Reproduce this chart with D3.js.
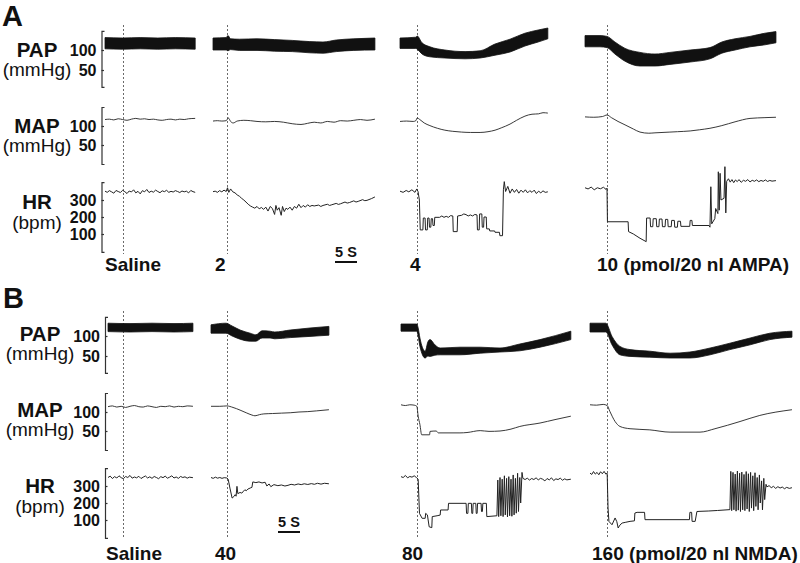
<!DOCTYPE html>
<html>
<head>
<meta charset="utf-8">
<script src="https://cdn.jsdelivr.net/npm/d3@7"></script>
<style>
	body { margin: 0; background: #fff; }
	svg { display: block; font-family: "Liberation Sans", Arial, sans-serif; }
</style>
</head>
<body>
<script>

// ------------------------ DATA ------------------------
// times are seconds from the start of each trace segment
var panelNames = ['A', 'B'];
var doseLabels = [
	['Saline', '2', '4', '10 (pmol/20 nl AMPA)'],
	['Saline', '40', '80', '160 (pmol/20 nl NMDA)']
];
var rowNames = [['PAP', '(mmHg)'], ['MAP', '(mmHg)'], ['HR', '(bpm)']];
var papTicks = [50, 100];
var mapTicks = [50, 100];
var hrTicks = [100, 200, 300];
var scaleBarSeconds = 5;

// injection time (s) of each segment -> dashed line
var injectT = [[4.1, 3.2, 3.9, 5.0], [3.4, 3.6, 3.6, 3.9]];

// PAP envelope: [t, diastolic, systolic]
var papA = [
	[[0,103,131],[4,102,130],[8,103,131],[12,102,130],[16,103,131],[20.5,102,130]],
	[[0,100,130],[3,100,131],[3.4,98,136],[4,101,128],[6,99,127],[10,99,128],[14,97,126],[18,96,124],[22,93,121],[25,92,120],[28,96,125],[32,99,128],[36.8,100,130]],
	[[0,104,130],[3.6,104,132],[3.9,102,135],[5,90,118],[6.8,83,108],[10.2,80,100],[14.8,78,96],[18.2,80,98],[21.6,87,115],[25,95,127],[28.4,110,142],[31.4,120,150],[33.6,128,155]],
	[[0,108,136],[3.4,108,136],[5,106,134],[6.8,90,120],[9.1,72,104],[12.5,60,94],[15.9,60,90],[19.3,64,94],[23.9,70,100],[28.4,78,106],[31.1,92,120],[34.1,100,128],[37.5,108,134],[40.9,113,142],[43.4,118,146]]
];
var papB = [
	[[0,111,132],[5,110,131],[10,111,132],[15,110,131],[19.3,111,132]],
	[[0,107,128],[3.4,107,132],[4.8,100,125],[6.6,92,115],[8.9,87,107],[10.2,87,103],[11.6,95,113],[13.4,95,112],[14.5,93,110],[18,96,115],[22.5,99,120],[26.8,102,124]],
	[[0,112,130],[3.6,112,130],[3.9,100,120],[4.3,74,95],[5.5,45,62],[6.1,50,85],[6.6,49,91],[7.7,52,78],[8.9,53,70],[13.4,53,72],[18,57,72],[22.5,60,70],[27,63,80],[31.6,72,91],[38.6,91,112]],
	[[0,110,132],[3.6,110,132],[5,78,99],[6.8,53,74],[9.1,49,66],[13.6,47,62],[18.2,45,57],[22.7,45,60],[27.3,53,70],[31.8,66,82],[36.4,78,95],[40.9,91,107],[45.9,97,112]]
];

// MAP: [t, mmHg]
var mapA = [
	[[0,117],[1,118],[2,116],[3,119],[4,117],[5,115],[6,118],[7,120],[8,118],[9,119],[10,117],[11,118],[12,116],[13,115],[14,117],[15,118],[16,116],[17,118],[18,117],[19,119],[20.5,120]],
	[[0,113],[1,114],[2,113],[3,114],[3.5,121],[4,112],[4.6,108],[5.5,113],[7,115],[8.5,114],[10,112],[12,111],[14,112],[16,110],[18,106],[20,104],[21.5,107],[23,110],[24.5,108],[26,112],[27.5,110],[29,114],[30.5,113],[32,115],[33.5,117],[35,115],[36.8,118]],
	[[0,112],[1.5,113],[3,112],[3.6,114],[3.9,121],[4.5,117],[5.5,108],[6.8,101],[8.5,94],[10.2,89],[12,86],[14,84],[16,83],[18.2,83],[20,85],[21.6,89],[23,95],[25,105],[26.5,115],[28.4,126],[30,131],[31.5,132],[32.5,135],[33.6,134]],
	[[0,124],[2,123],[4,125],[5,129],[6,122],[7.5,112],[9.1,103],[11,92],[12.5,84],[14.5,81],[15.9,82],[19.3,84],[21,85],[23.9,87],[26,90],[28.4,94],[31.1,101],[34.1,111],[37.5,120],[40.9,122],[43.4,123]]
];
var mapB = [
	[[0,114],[1,116],[2,113],[3,115],[4,112],[5,115],[6,117],[7,114],[8,113],[9,116],[10,114],[11,112],[12,115],[13,114],[14,116],[15,113],[16,115],[17,114],[18,116],[19.3,115]],
	[[0,115],[2,115],[3.6,116],[5,112],[6.6,105],[8,98],[9.3,92],[10,90],[11,93],[12,95],[14,96],[16,97],[18,98],[20,100],[22,101],[24,103],[26.8,106]],
	[[0,119],[1,117],[2,119],[3,118],[3.6,115],[3.9,89],[4.3,67],[4.7,40],[6.5,40],[6.6,49],[8,50],[8.5,45],[13.4,45],[15,46],[18,51],[20,49],[22.5,50],[25,55],[27,62],[31.6,71],[35,80],[38.6,89]],
	[[0,119],[1.5,118],[3,120],[3.9,117],[4.5,102],[5.7,75],[6.8,62],[9.1,56],[13.6,53],[18.2,47],[25,47],[28.4,56],[34.1,75],[38.6,91],[45.9,106]]
];

// HR: [t, bpm]
var hrA = [
	[[0,352],[0.5,345],[1,355],[1.5,348],[2,340],[2.5,356],[3,350],[3.5,344],[4,357],[4.5,349],[5,338],[5.5,353],[6,347],[6.5,360],[7,342],[7.5,351],[8,336],[8.5,355],[9,348],[9.5,362],[10,344],[10.5,352],[11,346],[11.5,358],[12,350],[12.5,343],[13,354],[13.5,349],[14,357],[14.5,345],[15,351],[15.5,347],[16,355],[16.5,350],[17,344],[17.5,353],[18,348],[18.5,352],[19,342],[19.5,356],[20,349],[20.5,345]],
	[[0,349],[0.5,352],[1,345],[1.5,355],[2,348],[2.5,358],[3,350],[3.3,372],[3.6,345],[4,365],[4.5,348],[5,342],[5.5,330],[6,322],[6.5,310],[7,300],[7.5,288],[8,275],[8.5,265],[9,258],[9.5,252],[10,262],[10.5,248],[11,256],[11.5,245],[12,258],[12.5,235],[13,262],[13.5,250],[14,215],[14.3,268],[14.6,240],[15,255],[15.5,210],[15.8,262],[16.2,232],[16.6,252],[17,245],[17.5,258],[18,240],[18.5,262],[19,252],[19.5,275],[20,255],[20.5,268],[21,258],[21.5,272],[22,262],[22.5,268],[23,265],[24,270],[24.5,262],[25,268],[26,275],[26.5,268],[27,272],[28,280],[28.5,274],[29,278],[30,288],[30.5,282],[31,285],[32,295],[32.5,288],[33,292],[34,302],[34.5,296],[35,298],[36,308],[36.8,318]],
	[[0,352],[0.7,345],[1.4,356],[2,348],[2.7,360],[3.4,345],[3.8,365],[4.1,350],[4.4,300],[4.6,124],[5.2,124],[5.3,194],[5.7,194],[5.8,124],[6.2,124],[6.3,194],[6.6,194],[6.7,140],[7,140],[7.1,190],[7.4,190],[7.5,150],[7.8,150],[7.9,198],[9,198],[9.5,206],[10,198],[10.5,204],[11,198],[11.5,208],[12,206],[12.1,114],[13,114],[13.1,206],[14,210],[14.5,218],[15,214],[15.5,206],[16,212],[16.5,206],[17,215],[17.5,212],[17.6,124],[18,124],[18.1,218],[18.6,218],[18.7,140],[19,140],[19.1,200],[19.6,200],[19.7,130],[20.3,130],[20.4,118],[21.5,118],[21.6,110],[22.6,110],[22.7,90],[23.3,90],[23.5,360],[23.7,408],[24,350],[24.5,380],[25,340],[25.5,365],[26,345],[26.5,362],[27,340],[27.5,358],[28,345],[28.5,360],[29,342],[29.5,355],[30,345],[30.5,358],[31,338],[31.5,352],[32,342],[32.5,354],[33,345],[33.6,348]],
	[[0,372],[0.7,365],[1.4,376],[2.1,360],[2.8,372],[3.5,366],[4.2,375],[4.8,362],[5,370],[5.1,172],[9.8,172],[9.9,114],[11,100],[12.5,75],[13.9,55],[14,194],[14.8,194],[14.9,143],[15.4,143],[15.5,190],[16.2,190],[16.3,143],[16.8,143],[16.9,188],[17.5,188],[17.6,143],[18.2,143],[18.3,186],[18.8,186],[18.9,143],[19.6,143],[19.7,180],[20.3,180],[20.4,140],[21,140],[21.1,175],[21.7,175],[21.8,145],[23.8,145],[23.9,180],[24.3,180],[24.4,150],[28.2,150],[28.4,140],[28.6,378],[28.8,160],[29.5,190],[29.7,250],[30.2,220],[30.3,466],[30.5,240],[30.7,457],[30.9,300],[31.6,310],[31.8,496],[32,224],[32.2,410],[32.6,425],[33,405],[33.4,420],[33.8,402],[34.2,418],[34.6,408],[35,420],[35.5,404],[36,416],[36.5,410],[37,420],[37.5,406],[38,416],[38.5,410],[39,418],[39.5,408],[40,415],[40.5,410],[41,418],[41.5,409],[42,415],[42.5,411],[43.4,414]]
];
var hrB = [
	[[0,350],[0.5,358],[1,344],[1.5,355],[2,347],[2.5,360],[3,349],[3.5,343],[4,356],[4.5,350],[5,362],[5.5,346],[6,353],[6.5,348],[7,357],[7.5,344],[8,352],[8.5,359],[9,347],[9.5,354],[10,345],[10.5,356],[11,350],[11.5,343],[12,355],[12.5,349],[13,358],[13.5,346],[14,352],[14.5,360],[15,347],[15.5,353],[16,345],[16.5,356],[17,350],[17.5,354],[18,346],[18.5,352],[19.3,349]],
	[[0,350],[0.5,345],[1,352],[1.5,346],[2,350],[2.5,345],[3,349],[3.6,347],[3.9,340],[4.3,288],[4.8,229],[5.2,238],[5.5,249],[5.7,240],[5.9,298],[6.1,255],[6.6,262],[7,258],[7.4,270],[7.7,278],[8,272],[8.4,282],[8.9,288],[9.3,292],[9.5,324],[10.2,320],[10.9,324],[11.6,318],[12.3,322],[12.7,300],[13.2,312],[13.6,296],[14.3,308],[15.2,302],[16,306],[16.8,300],[17.5,304],[18.2,310],[19,306],[19.8,312],[20.5,308],[21.2,313],[22,309],[22.8,314],[23.5,310],[24.2,316],[25,311],[25.8,316],[26.8,313]],
	[[0,355],[0.5,350],[1,362],[1.5,348],[2,356],[2.5,352],[3,360],[3.5,350],[3.9,340],[4.2,139],[4.8,110],[5.5,110],[5.6,139],[6,130],[6.4,60],[7,55],[7.1,120],[8.2,125],[8.9,129],[9,159],[10.7,159],[10.8,198],[14.8,198],[14.9,139],[15.2,139],[15.3,198],[16,198],[16.1,139],[16.3,139],[16.4,198],[17,198],[17.1,139],[17.3,139],[17.4,198],[18.2,198],[18.3,150],[18.5,150],[18.6,198],[19.4,198],[19.5,120],[21.8,125],[22,335],[22.2,120],[22.5,350],[22.7,125],[23,340],[23.2,120],[23.5,360],[23.7,130],[24,345],[24.2,118],[24.5,355],[24.7,125],[25,340],[25.2,122],[25.5,365],[25.7,130],[26,345],[26.2,140],[26.5,375],[26.7,150],[27,350],[27.2,200],[27.5,380],[27.7,345],[28.2,338],[28.7,346],[29.2,335],[29.7,344],[30.2,338],[30.7,348],[31.2,336],[31.7,345],[32.2,340],[32.7,330],[33.2,344],[33.7,336],[34.2,348],[34.7,332],[35.2,342],[35.7,338],[36.2,346],[36.7,334],[37.2,342],[37.7,336],[38.6,340]],
	[[0,376],[0.4,368],[0.8,385],[1.2,370],[1.6,380],[2,366],[2.4,384],[2.8,372],[3.2,386],[3.6,370],[3.9,375],[4.1,171],[4.3,92],[5,72],[5.7,112],[6.1,90],[6.4,53],[6.8,70],[7.3,82],[8,86],[9.1,92],[10.1,95],[10.2,141],[10.7,145],[12.4,145],[12.5,102],[22.6,102],[22.7,145],[23.1,145],[23.2,92],[23.9,92],[24.3,150],[25,151],[27,153],[29,156],[31.8,161],[32,386],[32.2,155],[32.5,380],[32.7,160],[33,370],[33.2,152],[33.5,388],[33.7,158],[34,375],[34.2,150],[34.5,382],[34.7,160],[35,368],[35.2,155],[35.5,385],[35.7,165],[36,372],[36.2,150],[36.5,380],[36.7,170],[37,360],[37.2,155],[37.5,378],[37.7,180],[38,350],[38.2,160],[38.5,365],[38.7,200],[39,330],[39.2,160],[39.5,345],[39.7,220],[40,310],[40.2,295],[40.7,302],[41.2,290],[41.7,298],[42.2,286],[42.7,296],[43.2,288],[43.7,294],[44.2,284],[44.7,292],[45.3,286],[45.9,290]]
];

var papData = [papA, papB];
var mapData = [mapA, mapB];
var hrData = [hrA, hrB];

// ------------------------ LAYOUT ------------------------
var W = 800, H = 563;
var PX_PER_S = 4.4;             // 5 s = 22 px
var panelY = [0, 286];
var labelShift = [0, 284];
var segX = [[105, 213, 400, 585], [108, 211, 401, 590]];
var axisX = [101.5, 105];
var rowLabelX = [37, 40];
var letterPos = [[2, 26], [3, 308]];
var dashY = [[25, 254], [311, 538]];
var doseX = [[105, 215, 410, 597], [106, 215, 402, 592]];
var doseY = [271, 560];
var barPos = [[335, 262], [278, 532]];

var rows = [
	{ domain: [0, 150], range: [90, 30],   bracket: [8, 148],  ticks: papTicks, labelY: [57, 76] },
	{ domain: [0, 150], range: [164, 107], bracket: [0, 150],  ticks: mapTicks, labelY: [133, 152] },
	{ domain: [0, 400], range: [251, 183], bracket: [-5, 405], ticks: hrTicks,  labelY: [209, 229] }
];

var svg = d3.select('body')
	.append('svg')
	.attr('width', W)
	.attr('height', H);

svg.append('rect').attr('width', W).attr('height', H).attr('fill', '#fff');

panelNames.forEach(function(name, p) {
	var oy = panelY[p];
	var g = svg.append('g');

	// panel letter
	g.append('text')
		.text(name)
		.attr('x', letterPos[p][0])
		.attr('y', letterPos[p][1])
		.attr('font-size', 29)
		.attr('font-weight', 'bold')
		.attr('fill', '#111');

	// x scale for each segment
	var xs = segX[p].map(function(sx) {
		return d3.scaleLinear().domain([0, 10]).range([sx, sx + 10 * PX_PER_S]);
	});

	// dashed injection lines (behind traces)
	g.selectAll('.inject')
		.data(injectT[p])
		.enter()
		.append('line')
		.attr('x1', function(d, c) { return Math.round(xs[c](d)) + 0.5; })
		.attr('x2', function(d, c) { return Math.round(xs[c](d)) + 0.5; })
		.attr('y1', dashY[p][0])
		.attr('y2', dashY[p][1])
		.attr('stroke', '#444')
		.attr('stroke-width', 0.8)
		.attr('stroke-dasharray', '2,2');

	var traces = [papData[p], mapData[p], hrData[p]];

	rows.forEach(function(row, r) {
		var y = d3.scaleLinear().domain(row.domain).range([row.range[0] + oy, row.range[1] + oy]);

		// bracket axis, ticks pointing right
		var ax = d3.scaleLinear().domain(row.bracket).range(row.bracket.map(y));
		var axG = g.append('g')
			.attr('transform', 'translate(' + axisX[p] + ',0)')
			.call(d3.axisLeft(ax)
				.tickValues(row.ticks)
				.tickSizeInner(-2.5)
				.tickSizeOuter(-3)
				.tickPadding(5)
				.tickFormat(d3.format('d')));
		axG.attr('font-family', null).attr('font-size', 16);
		axG.select('.domain').attr('stroke', '#333').attr('stroke-width', 1.2);
		axG.selectAll('.tick line').attr('stroke', '#333').attr('stroke-width', 1.2);
		axG.selectAll('text').attr('font-weight', 'bold').attr('fill', '#111');

		// row title
		var ly = labelShift[p];
		g.append('text')
			.text(rowNames[r][0])
			.attr('x', rowLabelX[p])
			.attr('y', row.labelY[0] + ly)
			.attr('text-anchor', 'middle')
			.attr('font-size', 20.5)
			.attr('font-weight', 'bold')
			.attr('fill', '#111');
		g.append('text')
			.text(rowNames[r][1])
			.attr('x', rowLabelX[p])
			.attr('y', row.labelY[1] + ly)
			.attr('text-anchor', 'middle')
			.attr('font-size', 19)
			.attr('fill', '#111');

		// traces
		traces[r].forEach(function(seg, c) {
			if (r === 0) {
				var area = d3.area()
					.x(function(d) { return xs[c](d[0]); })
					.y0(function(d) { return y(d[1]); })
					.y1(function(d) { return y(d[2]); })
					.curve(d3.curveMonotoneX);
				g.append('path')
					.attr('d', area(seg))
					.attr('fill', '#111')
					.attr('stroke', '#111')
					.attr('stroke-width', 0.8);
			} else {
				var line = d3.line()
					.x(function(d) { return xs[c](d[0]); })
					.y(function(d) { return y(d[1]); })
					.curve(r === 1 ? d3.curveMonotoneX : d3.curveLinear);
				g.append('path')
					.attr('d', line(seg))
					.attr('fill', 'none')
					.attr('stroke', '#222')
					.attr('stroke-width', r === 1 ? 0.9 : 1);
			}
		});
	});

	// dose labels
	g.selectAll('.dose')
		.data(doseLabels[p])
		.enter()
		.append('text')
		.text(function(d) { return d; })
		.attr('x', function(d, c) { return doseX[p][c]; })
		.attr('y', doseY[p])
		.attr('font-size', 19)
		.attr('font-weight', 'bold')
		.attr('fill', '#111');

	// time scale bar
	var barW = scaleBarSeconds * PX_PER_S;
	g.append('line')
		.attr('x1', barPos[p][0])
		.attr('x2', barPos[p][0] + barW)
		.attr('y1', barPos[p][1])
		.attr('y2', barPos[p][1])
		.attr('stroke', '#111')
		.attr('stroke-width', 2);
	g.append('text')
		.text(scaleBarSeconds + ' S')
		.attr('x', barPos[p][0] + barW / 2)
		.attr('y', barPos[p][1] - 5)
		.attr('text-anchor', 'middle')
		.attr('font-size', 14.5)
		.attr('font-weight', 'bold')
		.attr('fill', '#111');
});

</script>
</body>
</html>
